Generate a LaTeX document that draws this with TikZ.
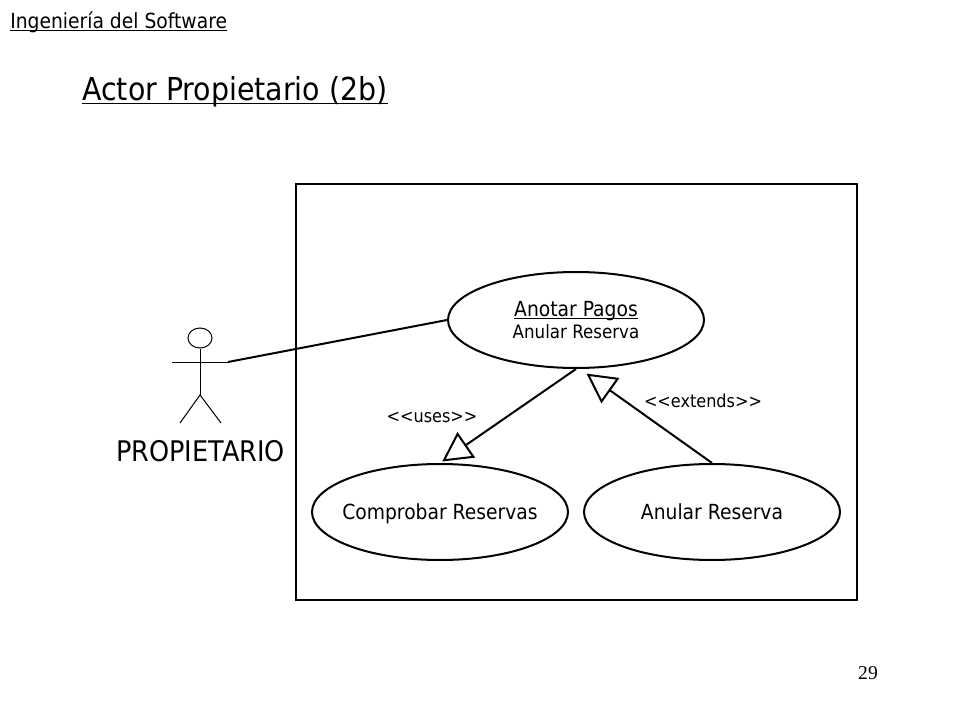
\documentclass[tikz,border=0pt]{standalone}
\usepackage{fontspec}
\setmainfont{DejaVu Sans}[FakeStretch=0.9]
\newfontfamily\numfont{Liberation Serif}
\usetikzlibrary{shapes.geometric,arrows.meta}
\newcommand{\ulsmash}[1]{\underline{\smash{#1}}}
\newcommand{\casename}[1]{\makebox[0pt]{\vphantom{A}\smash{#1}}}
\tikzset{
  usecase/.style = {draw, ellipse, line width=1.5pt, inner sep=0pt, minimum width=192pt, minimum height=72pt, align=center, font=\fontsize{15.6}{18}\selectfont},
  label/.style = {inner sep=0pt, font=\fontsize{13.4}{16}\selectfont},
  stick/.style = {line width=0.75pt},
  link/.style = {line width=1.5pt},
  hollow/.style = {-{Triangle[open, length=22pt, width=23pt, line width=1.5pt]}}
}
\begin{document}
\begin{tikzpicture}[x=0.75pt, y=-0.75pt]
\useasboundingbox (0,0) rectangle (960,720);

%headings

\node [anchor=base west, inner sep=0pt, font=\fontsize{15.6}{18}\selectfont] (header) at (10,28.5) {\ulsmash{Ingeniería del Software}};
\node [anchor=base west, inner sep=0pt, font=\fontsize{23.7}{28}\selectfont] (title) at (82,101) {\ulsmash{Actor Propietario (2b)}};
\node [anchor=base, inner sep=0pt, font=\numfont\fontsize{14.7}{17}\selectfont] (page) at (868,679) {29};

%system box

\draw [line width=1.5pt] (296,184) rectangle (857,600);

%use cases

\node [usecase] (anotar) at (576,320) {\vphantom{A}\ulsmash{Anotar Pagos}\\[-2pt]{\fontsize{13.9}{16}\selectfont Anular Reserva}};
\node [usecase] (comprobar) at (440,512) {\casename{Comprobar Reservas}};
\node [usecase] (anular) at (712,512) {\casename{Anular Reserva}};

%actor

\node [draw, stick, ellipse, inner sep=0pt, minimum width=18pt, minimum height=15pt] (head) at (200,338) {};
\coordinate (hip) at (200,395);
\coordinate (handL) at (172,362);
\coordinate (handR) at (228,362);
\coordinate (footL) at (180,423);
\coordinate (footR) at (221,423);
\draw [stick] (head) -- (hip);
\draw [stick] (handL) -- (handR);
\draw [stick] (footL) -- (hip) -- (footR);
\node [anchor=base, inner sep=0pt, font=\fontsize{21.3}{25}\selectfont] (actor) at (200.5,461.5) {PROPIETARIO};

%connectors

\draw [link] (handR) -- (anotar.west);
\draw [link, hollow, shorten >=2pt] (anotar.south) -- (comprobar.north);
\draw [link, hollow, shorten >=6pt] (anular.north) -- ([xshift=3pt]anotar.south);

\node [label] (uses) at (432,417) {<{}<uses>{}>};
\node [label] (extends) at (703,401) {<{}<extends>{}>};
\end{tikzpicture}
\end{document}
